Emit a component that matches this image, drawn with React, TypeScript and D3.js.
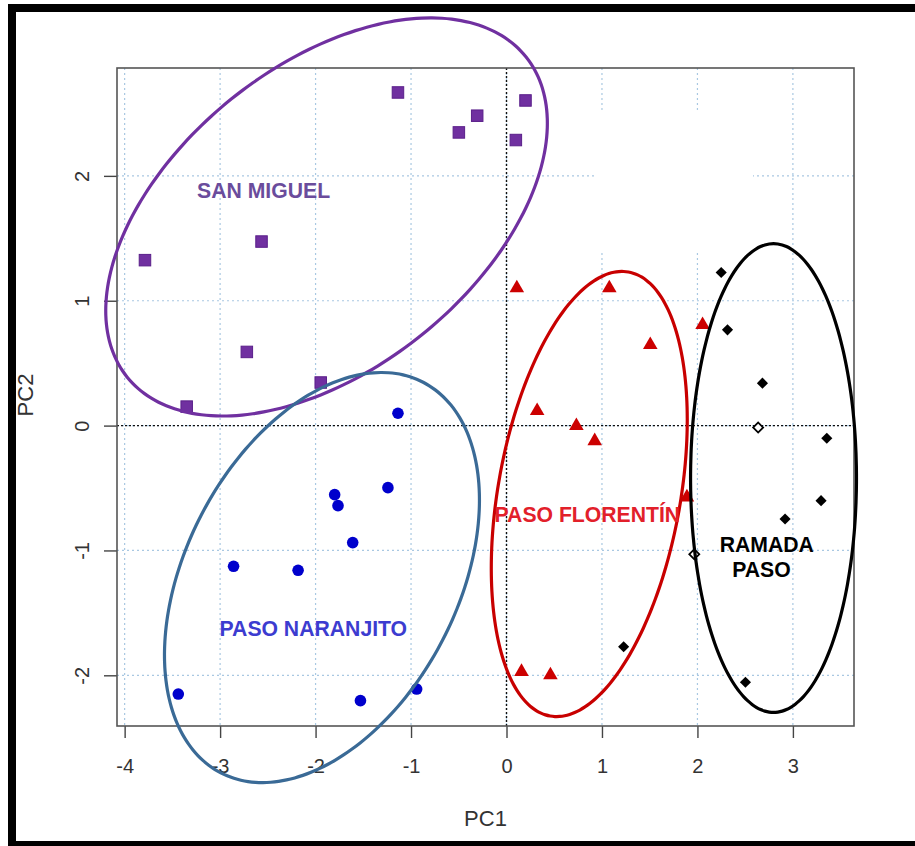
import React, { useRef, useEffect } from "react";
import * as d3 from "d3";

// PCA scores (PC1, PC2)
const sanMiguel = [
  [-1.137, 2.668], [0.199, 2.604], [-0.307, 2.482], [-0.499, 2.348], [0.098, 2.287],
  [-2.566, 1.474], [-3.787, 1.325], [-2.72, 0.59], [-1.946, 0.345], [-3.35, 0.152],
];
const pasoNaranjito = [
  [-1.137, 0.099], [-1.242, -0.497], [-1.8, -0.553], [-1.765, -0.641], [-1.611, -0.937],
  [-2.859, -1.127], [-2.183, -1.159], [-3.438, -2.15], [-1.53, -2.203], [-0.941, -2.11],
];
const pasoFlorentin = [
  [0.108, 1.101], [1.077, 1.101], [2.054, 0.807], [1.506, 0.647], [0.321, 0.118],
  [0.732, -0.002], [0.924, -0.123], [1.89, -0.574], [0.157, -1.971], [0.46, -1.998],
];
const ramadaPaso = [
  [2.249, 1.226], [2.315, 0.767], [2.681, 0.34], [3.355, -0.101],
  [3.295, -0.601], [2.918, -0.748], [1.227, -1.771], [2.503, -2.056],
];
// these two show up as open diamonds in the source
const ramadaPasoOpen = [
  [2.636, -0.016], [1.967, -1.031],
];

// ellipse: centre + two conjugate half-axis vectors, all in data units
const ellipses = [
  { name: "SAN MIGUEL", c: [-1.885, 1.671], u: [2.088, 1.283], v: [-0.995, 0.946] },
  { name: "PASO NARANJITO", c: [-1.933, -1.217], u: [1.06, 1.564], v: [-1.264, 0.501] },
  { name: "PASO FLORENTÍN", c: [0.867, -0.548], u: [0.41, 1.778], v: [-0.941, 0.127] },
  { name: "RAMADA PASO", c: [2.797, -0.42], u: [0, 1.877], v: [-0.869, 0] },
];

// group labels: lines, left x, baseline y (data units)
const labels = [
  { lines: ["SAN MIGUEL"], x: [-3.241], y: [1.822] },
  { lines: ["PASO NARANJITO"], x: [-3.006], y: [-1.685] },
  { lines: ["PASO FLORENTÍN"], x: [-0.125], y: [-0.77] },
  { lines: ["RAMADA", "PASO"], x: [2.234, 2.364], y: [-1.01, -1.215] },
];

const xTicks = [-4, -3, -2, -1, 0, 1, 2, 3];
const yTicks = [-2, -1, 0, 1, 2];
// part of the grid that was whited out in the source (x0, x1, y0, y1)
const erased = [0.948, 2.582, 2.528, 1.39];

export default function App() {
  const ref = useRef<SVGSVGElement>(null);

  const width = 915;
  const height = 846;
  const left = 117, right = 854, top = 68, bottom = 726;

  const x = d3.scaleLinear().domain([-4.08, 3.64]).range([left, right]);
  const y = d3.scaleLinear().domain([-2.406, 2.864]).range([bottom, top]);

  useEffect(() => {
    const svg = d3.select(ref.current);
    svg.selectAll("*").remove();
    const font = "'Liberation Sans', Arial, sans-serif";
    const fmt = (d: any) => String(d);

    svg.append("rect").attr("width", width).attr("height", height).attr("fill", "#fff");

    // grid
    const grid = svg.append("g").attr("stroke", "#a9c8e2").attr("stroke-width", 1.2).attr("stroke-dasharray", "2 3");
    grid.selectAll("line.gx").data(xTicks).join("line")
      .attr("class", "gx")
      .attr("x1", (d) => x(d)).attr("x2", (d) => x(d)).attr("y1", top).attr("y2", bottom);
    grid.selectAll("line.gy").data(yTicks).join("line")
      .attr("class", "gy")
      .attr("y1", (d) => y(d)).attr("y2", (d) => y(d)).attr("x1", left).attr("x2", right);

    svg.append("rect")
      .attr("x", x(erased[0])).attr("width", x(erased[1]) - x(erased[0]))
      .attr("y", y(erased[2])).attr("height", y(erased[3]) - y(erased[2]))
      .attr("fill", "#fff");

    // zero lines
    svg.append("line").attr("x1", x(0)).attr("x2", x(0)).attr("y1", top).attr("y2", bottom)
      .attr("stroke", "#111").attr("stroke-width", 1.4).attr("stroke-dasharray", "2 2");
    svg.append("line").attr("y1", y(0)).attr("y2", y(0)).attr("x1", left).attr("x2", right)
      .attr("stroke", "#111").attr("stroke-width", 1.4).attr("stroke-dasharray", "2 2");

    // axes
    const axB = svg.append("g").attr("transform", `translate(0, ${bottom})`)
      .call(d3.axisBottom(x).tickValues(xTicks).tickSize(12).tickSizeOuter(0).tickFormat(fmt));
    axB.select(".domain").remove();
    axB.selectAll("line").attr("stroke", "#444").attr("stroke-width", 1.4);
    axB.selectAll("text").attr("fill", "#333").attr("font-size", 20).attr("font-family", font)
      .attr("y", 0).attr("dy", 0).attr("transform", "translate(0, 47)");

    const axL = svg.append("g").attr("transform", `translate(${left}, 0)`)
      .call(d3.axisLeft(y).tickValues(yTicks).tickSize(13).tickSizeOuter(0).tickFormat(fmt));
    axL.select(".domain").remove();
    axL.selectAll("line").attr("stroke", "#444").attr("stroke-width", 1.4);
    axL.selectAll("text").attr("fill", "#333").attr("font-size", 20).attr("font-family", font)
      .attr("x", 0).attr("dy", 0).attr("text-anchor", "middle")
      .attr("transform", "translate(-35, 0) rotate(-90) translate(0, 7)");

    svg.append("rect").attr("x", left).attr("y", top).attr("width", right - left).attr("height", bottom - top)
      .attr("fill", "none").attr("stroke", "#555").attr("stroke-width", 1.6);

    svg.append("text").text("PC1").attr("x", (left + right) / 2).attr("y", 826)
      .attr("text-anchor", "middle").attr("font-size", 22).attr("fill", "#333").attr("font-family", font);
    svg.append("text").text("PC2")
      .attr("transform", `translate(33, 395) rotate(-90)`)
      .attr("text-anchor", "middle").attr("font-size", 22).attr("fill", "#333").attr("font-family", font);

    // points
    const sq = 11.5;
    svg.append("g").selectAll("rect").data(sanMiguel).join("rect")
      .attr("x", (d) => x(d[0]) - sq / 2).attr("y", (d) => y(d[1]) - sq / 2)
      .attr("width", sq).attr("height", sq)
      .attr("fill", "#7030a0").attr("stroke", "#5a1f8a").attr("stroke-width", 1);

    svg.append("g").selectAll("circle").data(pasoNaranjito).join("circle")
      .attr("cx", (d) => x(d[0])).attr("cy", (d) => y(d[1])).attr("r", 5.8)
      .attr("fill", "#0000cc");

    const tri = d3.symbol().type(d3.symbolTriangle).size(92);
    svg.append("g").selectAll("path").data(pasoFlorentin).join("path")
      .attr("d", tri).attr("transform", (d) => `translate(${x(d[0])}, ${y(d[1])})`)
      .attr("fill", "#cc0000");

    const dia = d3.symbol().type(d3.symbolSquare).size(62);
    svg.append("g").selectAll("path").data(ramadaPaso).join("path")
      .attr("d", dia).attr("transform", (d) => `translate(${x(d[0])}, ${y(d[1])}) rotate(45)`)
      .attr("fill", "#000");
    svg.append("g").selectAll("path").data(ramadaPasoOpen).join("path")
      .attr("d", d3.symbol().type(d3.symbolSquare).size(50))
      .attr("transform", (d) => `translate(${x(d[0])}, ${y(d[1])}) rotate(45)`)
      .attr("fill", "#fff").attr("stroke", "#000").attr("stroke-width", 1.8);

    // ellipses
    const colors = ["#7030a0", "#3a6a96", "#c80000", "#000000"];
    const ts = d3.range(0, 360, 3).map((t) => (t * Math.PI) / 180);
    svg.append("g").selectAll("path").data(ellipses).join("path")
      .attr("d", (e) => {
        const pts = ts.map((t) => [
          x(e.c[0] + e.u[0] * Math.cos(t) + e.v[0] * Math.sin(t)),
          y(e.c[1] + e.u[1] * Math.cos(t) + e.v[1] * Math.sin(t)),
        ] as [number, number]);
        return d3.line().curve(d3.curveCardinalClosed)(pts);
      })
      .attr("fill", "none").attr("stroke", (d, i) => colors[i]).attr("stroke-width", 3.2);

    // labels
    const labelColors = ["#6a4c9c", "#3c3cd0", "#e2202a", "#000000"];
    labels.forEach((l, i) => {
      l.lines.forEach((s, j) => {
        svg.append("text").text(s).attr("x", x(l.x[j])).attr("y", y(l.y[j]))
          .attr("font-family", font).attr("font-weight", "bold").attr("font-size", 21.2)
          .attr("fill", labelColors[i]);
      });
    });

    // outer black frame
    svg.append("rect").attr("x", 12).attr("y", 8).attr("width", width).attr("height", 837)
      .attr("fill", "none").attr("stroke", "#000").attr("stroke-width", 8);
  }, []);

  return (
    <svg
      ref={ref}
      width={width}
      height={height}
      style={{ position: "absolute", left: 0, top: 0 }}
    ></svg>
  );
}
